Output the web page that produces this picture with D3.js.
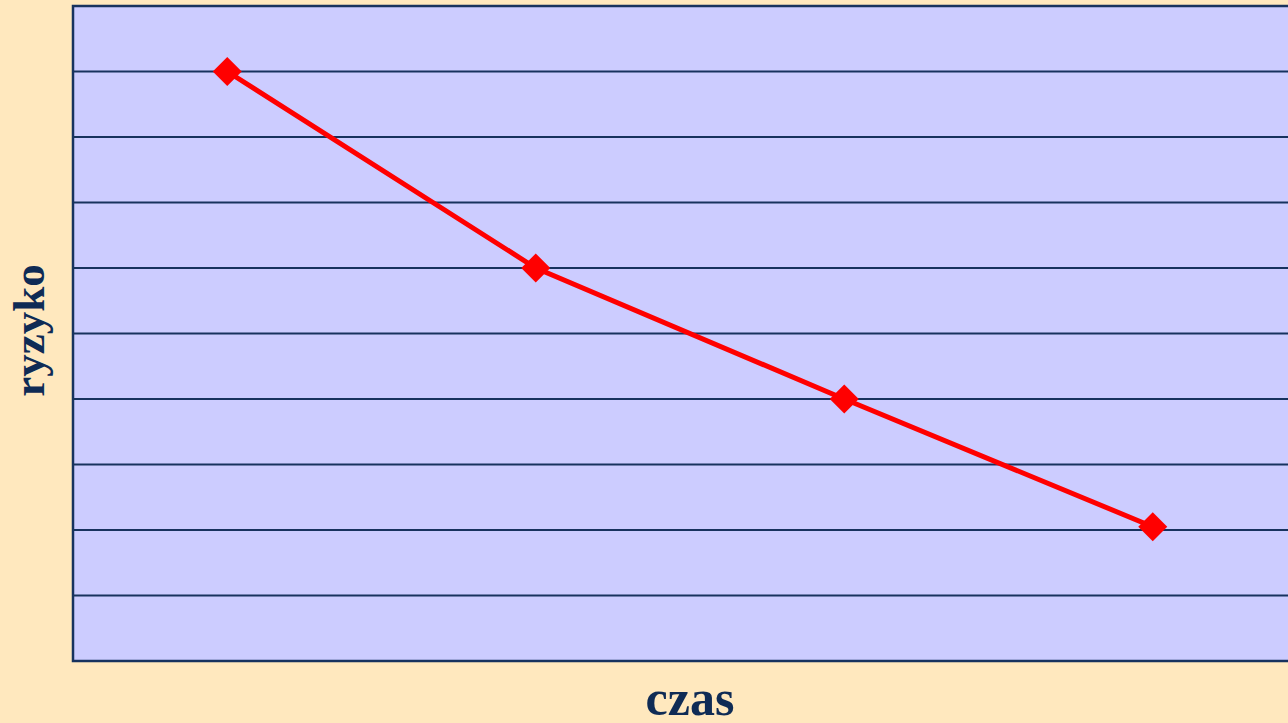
<!DOCTYPE html>
<html>
<head>
  <meta charset="utf-8">
  <title>ryzyko / czas</title>
  <script src="https://cdn.jsdelivr.net/npm/d3@7"></script>
  <style>
    html, body { margin: 0; padding: 0; background: #FFE8BE; overflow: hidden; }
  </style>
</head>
<body>
  <div id="chart"></div>
  <script>
    // data
    const categories = ["1", "2", "3", "4"]
    const values = [9, 6, 4, 2.05]
    const yTicks = [1, 2, 3, 4, 5, 6, 7, 8, 9]

    const width = 1288
    const height = 723
    const plotLeft = 73, plotTop = 6, plotBottom = 661
    const step = 308.5

    const svg = d3.select("#chart").append("svg")
      .attr("width", width)
      .attr("height", height)
      .style("display", "block")

    const x = d3.scalePoint()
      .domain(categories)
      .range([plotLeft, plotLeft + step * categories.length])
      .padding(0.5)

    const y = d3.scaleLinear()
      .domain([0, 10])
      .range([plotBottom, plotTop])

    const navy = "#17325E"

    svg.append("rect")
      .attr("x", plotLeft)
      .attr("y", plotTop)
      .attr("width", step * categories.length)
      .attr("height", plotBottom - plotTop)
      .attr("fill", "#CCCCFF")
      .attr("stroke", navy)
      .attr("stroke-width", 2.5)

    svg.append("g")
      .selectAll("line")
      .data(yTicks)
      .enter()
      .append("line")
      .attr("x1", plotLeft)
      .attr("x2", plotLeft + step * categories.length)
      .attr("y1", d => y(d))
      .attr("y2", d => y(d))
      .attr("stroke", navy)
      .attr("stroke-width", 2)

    const line = d3.line()
      .x((d, i) => x(categories[i]))
      .y(d => y(d))

    svg.append("path")
      .datum(values)
      .attr("d", line)
      .attr("fill", "none")
      .attr("stroke", "#FF0000")
      .attr("stroke-width", 5)

    svg.append("g")
      .selectAll("path")
      .data(values)
      .enter()
      .append("path")
      .attr("d", d3.symbol().type(d3.symbolSquare).size(420))
      .attr("transform", (d, i) => `translate(${x(categories[i])},${y(d)}) rotate(45)`)
      .attr("fill", "#FF0000")

    svg.append("text")
      .attr("transform", `translate(44,${(plotTop + plotBottom) / 2 - 3}) rotate(-90)`)
      .attr("text-anchor", "middle")
      .attr("font-family", "Liberation Serif, Times New Roman, serif")
      .attr("font-weight", "bold")
      .attr("font-size", 45)
      .attr("fill", "#0F2B55")
      .text("ryzyko")

    svg.append("text")
      .attr("x", 690)
      .attr("y", 715)
      .attr("text-anchor", "middle")
      .attr("font-family", "Liberation Serif, Times New Roman, serif")
      .attr("font-weight", "bold")
      .attr("font-size", 50)
      .attr("fill", "#0F2B55")
      .text("czas")
  </script>
</body>
</html>
